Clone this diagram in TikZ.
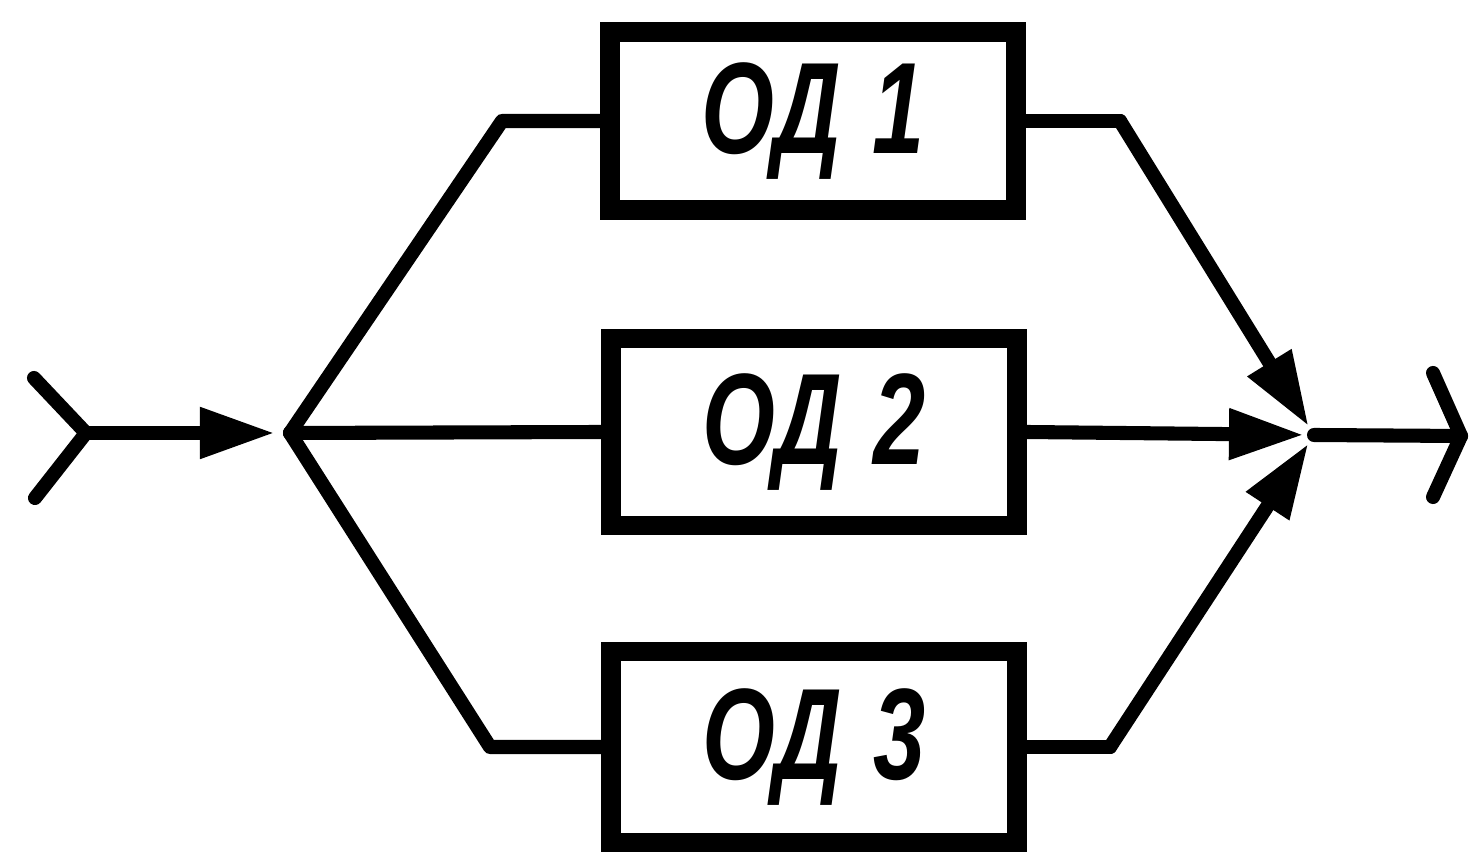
\documentclass[tikz,border=0pt]{standalone}
\usepackage{graphicx}
\usepackage{fontspec}
\setmainfont{Liberation Sans}
\usetikzlibrary{arrows.meta}
\begin{document}
\begin{tikzpicture}[x=0.01cm,y=-0.01cm,
  box/.style={draw, line width=5.5pt, inner sep=0pt, minimum width=4.06cm},
  wire/.style={line width=4pt, line cap=round, line join=round},
  tip/.style={-{Triangle[length=7.5mm,width=4.8mm]}},
  lbl/.style={font=\bfseries\itshape\fontsize{37}{37}\selectfont}]
\useasboundingbox (0,0) rectangle (1471,862);
% boxes
\node[box, minimum height=1.78cm, lbl] (b1) at (813,121) {\scalebox{0.72}[1]{ОД\,\,1}};
\node[box, minimum height=1.87cm, lbl] (b2) at (814,432) {\scalebox{0.72}[1]{ОД\,\,2}};
\node[box, minimum height=1.91cm, lbl] (b3) at (814,747) {\scalebox{0.72}[1]{ОД\,\,3}};
% coordinates
\coordinate (inp) at (86,433);
\coordinate (ci1) at (34,378);
\coordinate (ci2) at (35,498);
\coordinate (sp) at (290,433);
\coordinate (u1) at (502,121);
\coordinate (l1) at (490,747);
\coordinate (u2) at (1120,121);
\coordinate (l2) at (1110,747);
\coordinate (mg) at (1314,435);
\coordinate (out) at (1461,436);
\coordinate (co1) at (1433,373);
\coordinate (co2) at (1433,497);
% input
\draw[wire] (ci1) -- (inp) -- (ci2);
\draw[wire, tip, shorten >=1.5mm] (inp) -- (sp);
% branches
\draw[wire] (sp) -- (u1) -- (b1.west);
\draw[wire] (sp) -- (b2.west);
\draw[wire] (sp) -- (l1) -- (b3.west);
% merge
\draw[wire] (b1.east) -- (u2);
\draw[wire, tip, shorten >=1mm] (u2) -- (mg);
\draw[wire, tip, shorten >=1mm] (b2.east) -- (mg);
\draw[wire] (b3.east) -- (l2);
\draw[wire, tip, shorten >=1mm] (l2) -- (mg);
% output
\draw[wire] (mg) -- (out);
\draw[wire] (co1) -- (out) -- (co2);
\end{tikzpicture}
\end{document}
